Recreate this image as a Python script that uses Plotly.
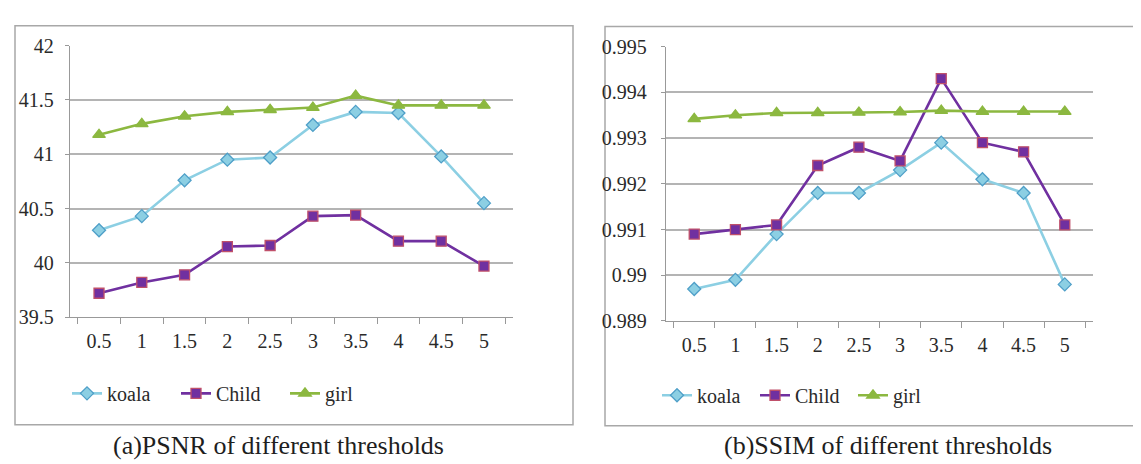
import plotly.graph_objects as go

thresholds = ["0.5", "1", "1.5", "2", "2.5", "3", "3.5", "4", "4.5", "5"]

psnr_koala = [40.30, 40.43, 40.76, 40.95, 40.97, 41.27, 41.39, 41.38, 40.98, 40.55]
psnr_child = [39.72, 39.82, 39.89, 40.15, 40.16, 40.43, 40.44, 40.20, 40.20, 39.97]
psnr_girl = [41.18, 41.28, 41.35, 41.39, 41.41, 41.43, 41.54, 41.45, 41.45, 41.45]

ssim_koala = [0.9897, 0.9899, 0.9909, 0.9918, 0.9918, 0.9923, 0.9929, 0.9921, 0.9918, 0.9898]
ssim_child = [0.9909, 0.9910, 0.9911, 0.9924, 0.9928, 0.9925, 0.9943, 0.9929, 0.9927, 0.9911]
ssim_girl = [0.99342, 0.99350, 0.99355, 0.99355, 0.99356, 0.99357, 0.99360, 0.99358, 0.99358, 0.99358]

psnr_ticks = [39.5, 40, 40.5, 41, 41.5, 42]
psnr_ticktext = ["39.5", "40", "40.5", "41", "41.5", "42"]
ssim_ticks = [0.989, 0.990, 0.991, 0.992, 0.993, 0.994, 0.995]
ssim_ticktext = ["0.989", "0.99", "0.991", "0.992", "0.993", "0.994", "0.995"]

captions = ["(a)PSNR of different thresholds", "(b)SSIM of different thresholds"]

FONT = "Liberation Serif"
C_KOALA = "#8ccfe3"
C_KOALA_EDGE = "#4f9fc8"
C_CHILD = "#7030a0"
C_CHILD_EDGE = "#c0506a"
C_GIRL = "#8cb840"
GRID = "#b4b4b4"
TXT = "#2a2a2a"

fig = go.Figure()

def add_series(x, y, name, color, edge, symbol, size, xa, ya, legend):
    fig.add_trace(go.Scatter(
        x=x, y=y, name=name, mode="lines+markers",
        line=dict(color=color, width=2.6),
        marker=dict(symbol=symbol, size=size, color=color, line=dict(color=edge, width=1.3)),
        xaxis=xa, yaxis=ya, legend=legend, showlegend=True,
    ))

add_series(thresholds, psnr_koala, "koala", C_KOALA, C_KOALA_EDGE, "diamond", 10, "x", "y", "legend")
add_series(thresholds, psnr_child, "Child", C_CHILD, C_CHILD_EDGE, "square", 10, "x", "y", "legend")
add_series(thresholds, psnr_girl, "girl", C_GIRL, C_GIRL, "triangle-up", 11, "x", "y", "legend")

add_series(thresholds, ssim_koala, "koala", C_KOALA, C_KOALA_EDGE, "diamond", 10, "x2", "y2", "legend2")
add_series(thresholds, ssim_child, "Child", C_CHILD, C_CHILD_EDGE, "square", 10, "x2", "y2", "legend2")
add_series(thresholds, ssim_girl, "girl", C_GIRL, C_GIRL, "triangle-up", 11, "x2", "y2", "legend2")

W, H = 1141, 464

def px_x(v):
    return v / W

def px_y(v):
    return 1 - v / H

xaxis_common = dict(
    type="category", tickson="boundaries", ticks="outside", ticklen=6,
    tickcolor="#999999", showline=True, linecolor="#999999", linewidth=1.3,
    showgrid=False, tickfont=dict(family=FONT, size=20, color=TXT),
    ticklabelstandoff=6, fixedrange=True,
)
yaxis_common = dict(
    ticks="outside", ticklen=4, tickcolor="#999999", showline=True,
    linecolor="#999999", linewidth=1.3, showgrid=True, gridcolor=GRID, gridwidth=1.5,
    tickfont=dict(family=FONT, size=20, color=TXT), zeroline=False,
    fixedrange=True,
)

fig.update_layout(
    width=W, height=H,
    font=dict(family=FONT, color=TXT),
    margin=dict(l=0, r=0, t=0, b=0),
    paper_bgcolor="white", plot_bgcolor="white",
    xaxis=dict(domain=[px_x(62), px_x(505)], anchor="y", **xaxis_common),
    yaxis=dict(domain=[px_y(313), px_y(28)], anchor="x", range=[39.5, 42],
               tickvals=psnr_ticks, ticktext=psnr_ticktext, ticklabelstandoff=7, **yaxis_common),
    xaxis2=dict(domain=[px_x(658), px_x(1085)], anchor="y2", **xaxis_common),
    yaxis2=dict(domain=[px_y(317), px_y(29)], anchor="x2", range=[0.989, 0.995],
                tickvals=ssim_ticks, ticktext=ssim_ticktext, ticklabelstandoff=10, **yaxis_common),
    legend=dict(orientation="h", x=px_x(59), y=px_y(393), xanchor="left", yanchor="middle",
                entrywidth=64, font=dict(family=FONT, size=20, color=TXT),
                bgcolor="rgba(0,0,0,0)", tracegroupgap=0),
    legend2=dict(orientation="h", x=px_x(649), y=px_y(395), xanchor="left", yanchor="middle",
                 entrywidth=53, font=dict(family=FONT, size=20, color=TXT),
                 bgcolor="rgba(0,0,0,0)", tracegroupgap=0),
    shapes=[
        dict(type="rect", xref="paper", yref="paper", x0=px_x(7), x1=px_x(565), y0=px_y(426), y1=px_y(7),
             line=dict(color="#a8a8a8", width=1.5), fillcolor="rgba(0,0,0,0)", layer="below"),
        dict(type="rect", xref="paper", yref="paper", x0=px_x(597), x1=px_x(1145), y0=px_y(427), y1=px_y(8),
             line=dict(color="#a8a8a8", width=1.5), fillcolor="rgba(0,0,0,0)", layer="below"),
    ],
    annotations=[
        dict(text=captions[0], xref="paper", yref="paper", x=px_x(270), y=px_y(448),
             xanchor="center", yanchor="middle", showarrow=False,
             font=dict(family=FONT, size=26, color="#1e1e1e")),
        dict(text=captions[1], xref="paper", yref="paper", x=px_x(880), y=px_y(448),
             xanchor="center", yanchor="middle", showarrow=False,
             font=dict(family=FONT, size=26, color="#1e1e1e")),
    ],
)

fig.write_html("out.html")
